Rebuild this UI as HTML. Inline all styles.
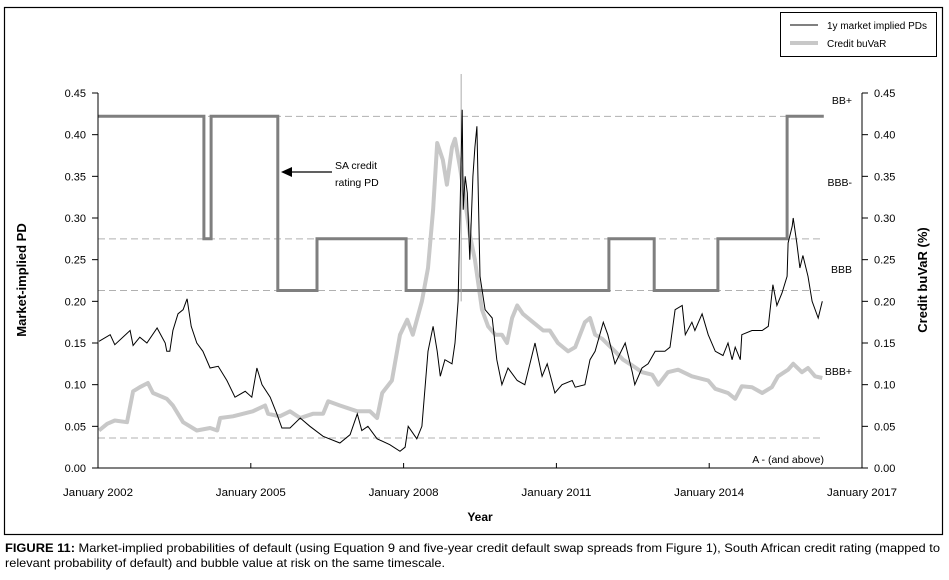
<!DOCTYPE html>
<html><head><meta charset="utf-8"><style>
html,body{margin:0;padding:0;background:#fff;}
svg{display:block;font-family:"Liberation Sans",Arial,sans-serif;}
</style></head><body>
<svg id="chart" width="949" height="580" viewBox="0 0 949 580">
<rect x="4.5" y="7.5" width="938" height="527" fill="none" stroke="#000" stroke-width="1.2"/>
<g id="grid"></g>
<g id="series"></g>
<g id="axes"></g>
<g>
<rect x="780.5" y="12.5" width="156" height="44" fill="#fff" stroke="#000"/>
<line x1="790" y1="25" x2="818" y2="25" stroke="#000" stroke-width="1"/>
<text x="827" y="29" font-size="10">1y market implied PDs</text>
<line x1="790" y1="43" x2="818" y2="43" stroke="#c8c8c8" stroke-width="4"/>
<text x="827" y="47" font-size="10">Credit buVaR</text>
</g>
<g font-size="10.5" fill="#000" text-anchor="end">
<text x="852" y="104">BB+</text>
<text x="852" y="186">BBB-</text>
<text x="852" y="273">BBB</text>
<text x="852" y="375">BBB+</text>
<text x="824" y="463">A  -   (and above)</text>
</g>
<g>
<line x1="332" y1="172" x2="290" y2="172" stroke="#000" stroke-width="1.2"/>
<polygon points="281,172 292,167 292,177" fill="#000"/>
<text x="335" y="169" font-size="10.5">SA credit</text>
<text x="335" y="186" font-size="10.5">rating PD</text>
</g>
<text transform="translate(26,280) rotate(-90)" text-anchor="middle" font-size="13" font-weight="bold">Market-implied PD</text>
<text transform="translate(927,280) rotate(-90)" text-anchor="middle" font-size="13" font-weight="bold">Credit buVaR (%)</text>
<text x="480" y="521" text-anchor="middle" font-size="12" font-weight="bold">Year</text>
<text x="5" y="552" font-size="12" textLength="935" lengthAdjust="spacingAndGlyphs"><tspan font-weight="bold">FIGURE 11:</tspan> Market-implied probabilities of default (using Equation 9 and five-year credit default swap spreads from Figure 1), South African credit rating (mapped to</text>
<text x="5" y="567" font-size="12" textLength="440" lengthAdjust="spacingAndGlyphs">relevant probability of default) and bubble value at risk on the same timescale.</text>
</svg>
<script>
const pdDates=[2002.02,2002.24,2002.33,2002.63,2002.69,2002.82,2002.96,2003.16,2003.32,2003.35,2003.41,2003.47,2003.57,2003.67,2003.75,2003.83,2003.94,2004.06,2004.20,2004.36,2004.53,2004.69,2004.89,2005.02,2005.12,2005.22,2005.38,2005.51,2005.61,2005.77,2005.97,2006.16,2006.42,2006.75,2006.95,2007.09,2007.18,2007.30,2007.48,2007.73,2007.93,2008.03,2008.09,2008.26,2008.36,2008.48,2008.58,2008.66,2008.72,2008.81,2008.95,2009.01,2009.07,2009.15,2009.17,2009.21,2009.25,2009.30,2009.36,2009.40,2009.44,2009.50,2009.60,2009.74,2009.83,2009.93,2010.05,2010.23,2010.38,2010.58,2010.72,2010.82,2010.97,2011.11,2011.31,2011.37,2011.56,2011.66,2011.76,2011.92,2012.01,2012.15,2012.35,2012.49,2012.54,2012.68,2012.80,2012.94,2013.13,2013.23,2013.33,2013.47,2013.53,2013.66,2013.72,2013.86,2013.98,2014.12,2014.27,2014.37,2014.45,2014.51,2014.61,2014.64,2014.84,2015.04,2015.16,2015.25,2015.33,2015.43,2015.53,2015.55,2015.63,2015.65,2015.72,2015.78,2015.84,2015.94,2016.02,2016.14,2016.22];
const pdValues=[0.152,0.16,0.148,0.165,0.147,0.157,0.15,0.168,0.15,0.14,0.14,0.165,0.185,0.19,0.203,0.17,0.15,0.14,0.12,0.122,0.105,0.085,0.092,0.085,0.12,0.10,0.085,0.065,0.048,0.048,0.06,0.05,0.038,0.030,0.04,0.065,0.045,0.05,0.035,0.028,0.02,0.025,0.05,0.035,0.05,0.14,0.17,0.14,0.11,0.13,0.125,0.15,0.2,0.43,0.31,0.35,0.33,0.25,0.35,0.385,0.41,0.23,0.19,0.18,0.13,0.10,0.12,0.105,0.10,0.15,0.11,0.125,0.09,0.10,0.105,0.097,0.10,0.13,0.14,0.175,0.16,0.125,0.15,0.115,0.10,0.12,0.125,0.14,0.14,0.145,0.19,0.195,0.16,0.175,0.165,0.185,0.16,0.14,0.135,0.15,0.13,0.145,0.13,0.16,0.165,0.165,0.17,0.22,0.195,0.21,0.23,0.27,0.29,0.30,0.27,0.24,0.255,0.23,0.20,0.18,0.20];
const buvarDates=[2002.02,2002.18,2002.33,2002.57,2002.69,2002.82,2002.98,2003.08,2003.35,2003.47,2003.67,2003.94,2004.20,2004.34,2004.40,2004.65,2005.04,2005.28,2005.34,2005.57,2005.77,2005.97,2006.22,2006.42,2006.52,2006.75,2007.09,2007.34,2007.48,2007.58,2007.77,2007.93,2008.07,2008.18,2008.36,2008.48,2008.58,2008.66,2008.77,2008.85,2008.95,2009.01,2009.11,2009.21,2009.30,2009.40,2009.54,2009.66,2009.80,2009.93,2010.03,2010.13,2010.23,2010.34,2010.54,2010.74,2010.87,2011.03,2011.23,2011.37,2011.56,2011.66,2011.76,2011.90,2012.15,2012.31,2012.49,2012.68,2012.88,2013.00,2013.19,2013.39,2013.66,2013.98,2014.12,2014.37,2014.51,2014.64,2014.84,2015.04,2015.23,2015.35,2015.55,2015.65,2015.82,2015.94,2016.08,2016.22];
const buvarValues=[0.045,0.053,0.057,0.055,0.092,0.097,0.102,0.09,0.083,0.075,0.055,0.045,0.048,0.045,0.06,0.062,0.068,0.075,0.065,0.062,0.068,0.060,0.065,0.065,0.08,0.075,0.068,0.068,0.06,0.09,0.105,0.16,0.178,0.16,0.2,0.24,0.31,0.39,0.37,0.34,0.385,0.395,0.36,0.32,0.28,0.25,0.19,0.17,0.16,0.16,0.15,0.18,0.195,0.185,0.175,0.165,0.165,0.15,0.14,0.145,0.175,0.18,0.16,0.155,0.14,0.13,0.123,0.115,0.112,0.100,0.115,0.118,0.11,0.105,0.095,0.09,0.083,0.098,0.097,0.09,0.097,0.11,0.118,0.125,0.115,0.12,0.11,0.108];
const ratingStarts=[2002.0,2004.08,2004.22,2005.53,2006.30,2008.05,2012.03,2012.92,2014.17,2015.53];
const ratingValues=[0.422,0.275,0.422,0.213,0.275,0.213,0.275,0.213,0.275,0.422];
const ratingEnd=2016.25;
const ratingLevels=[0.422,0.275,0.213,0.036];
const yTicks=[0,0.05,0.10,0.15,0.20,0.25,0.30,0.35,0.40,0.45];
const xTickYears=[2002,2005,2008,2011,2014,2017];
const xTickLabels=["January 2002","January 2005","January 2008","January 2011","January 2014","January 2017"];

const NS="http://www.w3.org/2000/svg";
const X0=98,X1=862,Y0=468,Y1=93;
function xs(yr){return X0+(yr-2002)/(2017-2002)*(X1-X0);}
function ys(v){return Y0-v/0.45*(Y0-Y1);}
function mk(tag,attrs,parent){const e=document.createElementNS(NS,tag);for(const k in attrs)e.setAttribute(k,attrs[k]);parent.appendChild(e);return e;}
const grid=document.getElementById('grid'),series=document.getElementById('series'),axes=document.getElementById('axes');

ratingLevels.forEach(v=>{
  const l=mk('line',{x1:X0,x2:823,y1:ys(v),y2:ys(v),stroke:'#b0b0b0','stroke-width':1,'stroke-dasharray':'7,4'},grid);
  
  
});

let bp=buvarDates.map((d,i)=>xs(d).toFixed(1)+','+ys(buvarValues[i]).toFixed(1)).join(' ');
const bl=mk('polyline',{points:bp,fill:'none',stroke:'#c8c8c8','stroke-width':4,'stroke-linejoin':'round'},series);



let rp=[];
ratingStarts.forEach((s,i)=>{const e=i<ratingStarts.length-1?ratingStarts[i+1]:ratingEnd;rp.push(xs(s).toFixed(1)+','+ys(ratingValues[i]).toFixed(1));rp.push(xs(e).toFixed(1)+','+ys(ratingValues[i]).toFixed(1));});
const rl=mk('polyline',{points:rp.join(' '),fill:'none',stroke:'#7f7f7f','stroke-width':3},series);



const sp=mk('line',{x1:xs(2009.13),x2:xs(2009.13),y1:74,y2:ys(0.2),stroke:'#aaa','stroke-width':1},series);



let pp=pdDates.map((d,i)=>xs(d).toFixed(1)+','+ys(pdValues[i]).toFixed(1)).join(' ');
const pl=mk('polyline',{points:pp,fill:'none',stroke:'#000','stroke-width':1},series);



const la=mk('line',{x1:X0,x2:X0,y1:Y1,y2:Y0,stroke:'#000'},axes);


const ra=mk('line',{x1:X1,x2:X1,y1:Y1,y2:Y0,stroke:'#000'},axes);


const xa=mk('line',{x1:X0,x2:X1,y1:Y0,y2:Y0,stroke:'#000'},axes);


yTicks.forEach(v=>{
  const y=ys(v);
  mk('line',{x1:X0-6,x2:X0,y1:y,y2:y,stroke:'#000'},axes);
  mk('line',{x1:X1,x2:X1+6,y1:y,y2:y,stroke:'#000'},axes);
  const t1=mk('text',{x:X0-12,y:y+4,'text-anchor':'end','font-size':11},axes);
  t1.textContent=v.toFixed(2);
  
  
  const t2=mk('text',{x:X1+12,y:y+4,'font-size':11},axes);
  t2.textContent=v.toFixed(2);
  
  
});
xTickYears.forEach((yr,i)=>{
  const x=xs(yr);
  mk('line',{x1:x,x2:x,y1:Y0-5,y2:Y0,stroke:'#000'},axes);
  const t=mk('text',{x:x,y:496,'text-anchor':'middle','font-size':11,textLength:70,lengthAdjust:'spacingAndGlyphs'},axes);
  t.textContent=xTickLabels[i];
  
  
});
</script>
</body></html>
